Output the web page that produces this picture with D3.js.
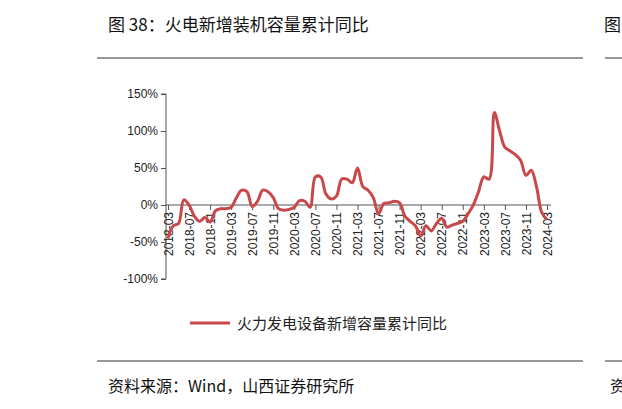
<!DOCTYPE html>
<html><head><meta charset="utf-8">
<script src="https://cdn.jsdelivr.net/npm/d3@7"></script>
<style>body{margin:0;background:#fff}</style>
</head><body>
<script>
// monthly values, 2018-03 .. 2024-03 (%)
var startYear = 2018, startMonth = 3;
var values = [-45,-28,-25,7,0,-15,-22,-17,-23,-8,-5,-5,
  -3,10,20,18,-2,5,20,18,10,-5,-7,-6,
  -3,6,5,-3,38,38,15,8,12,35,35,30,
  50,25,20,10,-12,2,3,5,3,-15,-22,-28,
  -42,-28,-35,-25,-18,-30,-27,-25,-22,-12,0,18,
  38,35,125,100,78,73,68,60,40,47,25,-10,-20];
var yTicks = [-100,-50,0,50,100,150];
var seriesName = "火力发电设备新增容量累计同比";

var months = values.map(function (v, i) {
    var m = startMonth - 1 + i;
    return startYear + Math.floor(m / 12) + "-" + d3.format("02")(m % 12 + 1);
});
var tickLabels = months.filter(function (d, i) { return i % 4 === 0; });

var svg = d3.select("body").append("svg").attr("width", 622).attr("height", 409);
var cjk = "'Noto Sans CJK SC', sans-serif";

svg.append("text").attr("x", 108).attr("y", 31).attr("font-family", cjk)
    .attr("font-size", 17).attr("fill", "#111").text("图 38：火电新增装机容量累计同比");
svg.append("text").attr("x", 604).attr("y", 31).attr("font-family", cjk)
    .attr("font-size", 17).attr("fill", "#111").text("图");
svg.append("line").attr("x1", 97).attr("x2", 583).attr("y1", 58).attr("y2", 58).attr("stroke", "#333");
svg.append("line").attr("x1", 605).attr("x2", 622).attr("y1", 58).attr("y2", 58).attr("stroke", "#333");
svg.append("line").attr("x1", 97).attr("x2", 583).attr("y1", 361).attr("y2", 361).attr("stroke", "#333");
svg.append("line").attr("x1", 605).attr("x2", 622).attr("y1", 361).attr("y2", 361).attr("stroke", "#333");
svg.append("text").attr("x", 108).attr("y", 392).attr("font-family", cjk)
    .attr("font-size", 16).attr("fill", "#111").text("资料来源：Wind，山西证券研究所");
svg.append("text").attr("x", 610).attr("y", 392).attr("font-family", cjk)
    .attr("font-size", 16).attr("fill", "#111").text("资");

var x = d3.scalePoint().domain(months).range([168, 547]);
var y = d3.scaleLinear().domain([-100, 150]).range([279, 94]);

var yAxis = svg.append("g").attr("transform", "translate(166,0)")
    .call(d3.axisLeft(y).tickValues(yTicks).tickSize(5).tickFormat(function (d) { return d + "%"; }));
yAxis.selectAll("text").attr("font-family", "'Liberation Sans', Arial").attr("font-size", 12).attr("fill", "#222");
yAxis.selectAll("line,path").attr("stroke", "#555");
yAxis.select(".domain").attr("d", "M-5," + y(150) + "H0V" + y(-100) + "H-5");

var xAxis = svg.append("g").attr("transform", "translate(0," + y(0) + ")")
    .call(d3.axisBottom(x).tickValues(tickLabels).tickSize(5).tickSizeOuter(0));
xAxis.select(".domain").attr("d", "M166,0H551");
xAxis.selectAll("line,path").attr("stroke", "#555");
xAxis.selectAll("text").attr("font-family", "'Liberation Sans', Arial").attr("font-size", 12).attr("fill", "#222")
    .attr("transform", "rotate(-90)").attr("text-anchor", "end").attr("dx", "-7").attr("dy", "-0.45em").attr("y", 0).attr("x", 0)
    .attr("dy", "0.35em");

var line = d3.line().x(function (d, i) { return x(months[i]); }).y(function (d) { return y(d); })
    .curve(d3.curveCatmullRom.alpha(0.5));
svg.append("path").datum(values).attr("d", line).attr("fill", "none")
    .attr("stroke", "#c9484a").attr("stroke-width", 3);

svg.append("line").attr("x1", 190).attr("x2", 230).attr("y1", 323).attr("y2", 323)
    .attr("stroke", "#c9484a").attr("stroke-width", 3);
svg.append("text").attr("x", 237).attr("y", 329).attr("font-family", cjk)
    .attr("font-size", 15).attr("fill", "#222").text(seriesName);
</script>
</body></html>
